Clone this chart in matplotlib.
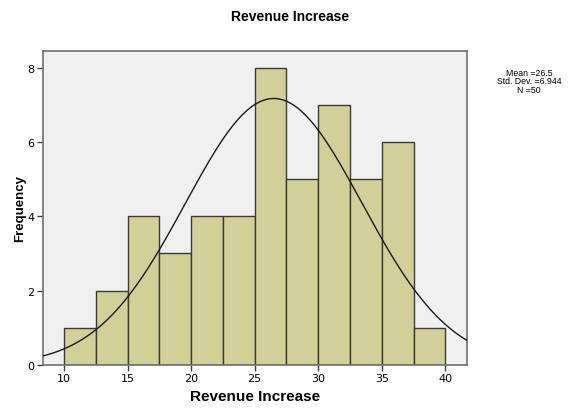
import numpy as np
import matplotlib.pyplot as plt

# histogram of revenue increase, bin width 2.5
bin_edges = [10, 12.5, 15, 17.5, 20, 22.5, 25, 27.5, 30, 32.5, 35, 37.5, 40]
counts = [1, 2, 4, 3, 4, 4, 8, 5, 7, 5, 6, 1]
mean = 26.5
std = 6.944
n = 50
x_ticks = [10, 15, 20, 25, 30, 35, 40]
y_ticks = [0, 2, 4, 6, 8]

fig = plt.figure(figsize=(5.81, 4.10), dpi=100)
ax = fig.add_axes([0.0735, 0.108, 0.7297, 0.765])
ax.set_facecolor('#F0F0F0')

widths = np.diff(bin_edges)
ax.bar(bin_edges[:-1], counts, width=widths, align='edge',
       color='#D3CF98', edgecolor='#3A3A3A', linewidth=1.0, zorder=2)

# normal curve scaled to counts
xlim = (8.33, 41.67)
xs = np.linspace(xlim[0], xlim[1], 400)
bw = widths[0]
ys = n * bw / (std * np.sqrt(2 * np.pi)) * np.exp(-0.5 * ((xs - mean) / std) ** 2)
ax.plot(xs, ys, color='#1a1a1a', linewidth=1.0, zorder=3)

ax.set_xlim(xlim)
ax.set_ylim(0, 8.46)
ax.set_xticks(x_ticks)
ax.set_yticks(y_ticks)
ax.tick_params(direction='out', length=4, width=1, color='#404040',
               labelsize=8, pad=2)
for s in ax.spines.values():
    s.set_color('#707070')
    s.set_linewidth(1.2)

ax.set_xlabel('Revenue Increase', fontsize=11, fontweight='bold',
              family='Liberation Sans', labelpad=4)
ax.set_ylabel('Frequency', fontsize=9.5, fontweight='bold',
              family='Liberation Sans', labelpad=1)
fig.text(0.5, 0.958, 'Revenue Increase', ha='center', va='center',
         fontsize=10, fontweight='bold', family='Liberation Sans')

stats = 'Mean =%.1f\nStd. Dev. =%.3f\nN =%d' % (mean, std, n)
fig.text(0.911, 0.80, stats, ha='center', va='center', fontsize=6.3,
         family='Liberation Sans', linespacing=0.95)

fig.savefig('out.png', dpi=100)
